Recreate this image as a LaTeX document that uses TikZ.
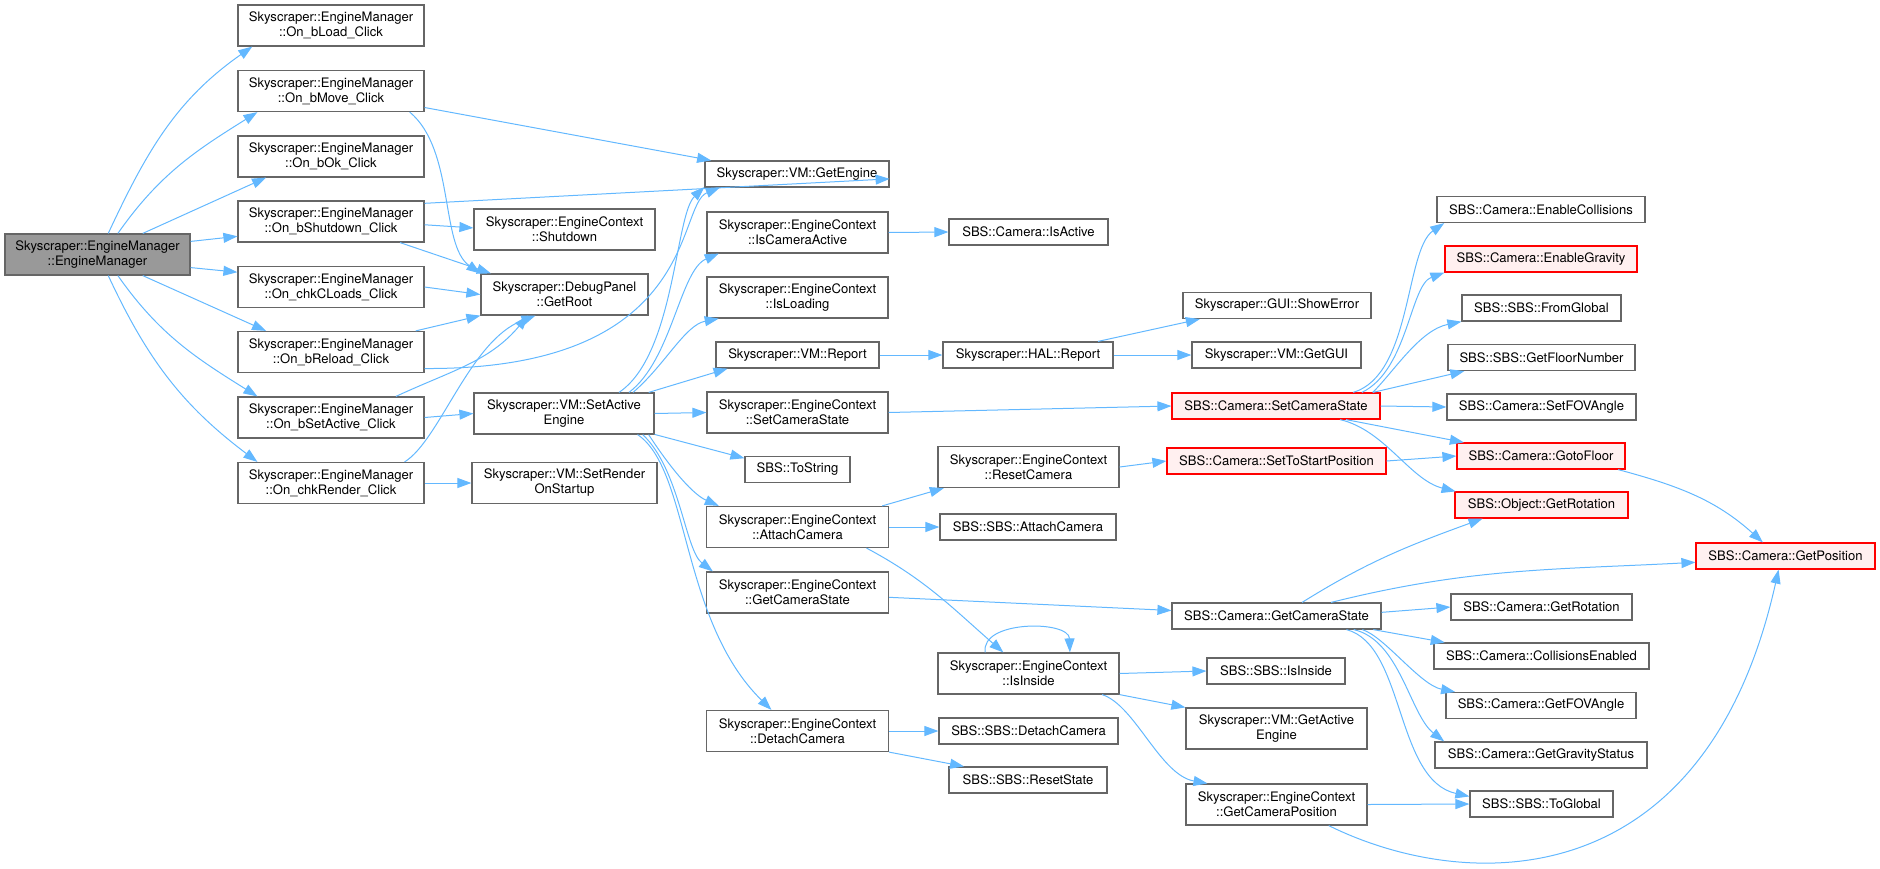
\documentclass[tikz,border=0pt]{standalone}
\usepackage{fontspec}
\setmainfont{TeX Gyre Heros}
\usetikzlibrary{arrows.meta}
\definecolor{edgeblue}{HTML}{63B8FF}
\definecolor{nodegray}{HTML}{666666}
\definecolor{maingray}{HTML}{999999}
\definecolor{hotfill}{HTML}{FFF0F0}

\begin{document}
\begin{tikzpicture}[x=0.75pt, y=-0.75pt,
  fn/.style={draw=nodegray, fill=white, line width=0.9pt, inner sep=0pt,
    align=center, font=\fontsize{9.8}{11.25}\selectfont},
  one/.style={fn, minimum height=19.5pt},
  two/.style={fn, minimum height=30.75pt},
  main/.style={fill=maingray},
  hot/.style={draw=red, fill=hotfill},
  call/.style={draw=edgeblue, line width=0.75pt,
    -{Triangle[length=10.5pt,width=7.5pt]}}]
\useasboundingbox (0,0) rectangle (1880,868);

\node[two, main, minimum width=138.75pt] (em) at (97.5,254.5) {Skyscraper::EngineManager\\::EngineManager};

\node[two, minimum width=139.5pt] (load) at (331,25.5) {Skyscraper::EngineManager\\::On\_bLoad\_Click};
\node[two, minimum width=139.5pt] (move) at (331,91) {Skyscraper::EngineManager\\::On\_bMove\_Click};
\node[two, minimum width=139.5pt] (ok) at (331,156.5) {Skyscraper::EngineManager\\::On\_bOk\_Click};
\node[two, minimum width=139.5pt] (shut) at (331,221.5) {Skyscraper::EngineManager\\::On\_bShutdown\_Click};
\node[two, minimum width=139.5pt] (cload) at (331,287) {Skyscraper::EngineManager\\::On\_chkCLoads\_Click};
\node[two, minimum width=139.5pt] (reload) at (331,352) {Skyscraper::EngineManager\\::On\_bReload\_Click};
\node[two, minimum width=139.5pt] (setact) at (331,417.5) {Skyscraper::EngineManager\\::On\_bSetActive\_Click};
\node[two, minimum width=139.5pt] (render) at (331,483) {Skyscraper::EngineManager\\::On\_chkRender\_Click};

\node[two, minimum width=135.75pt] (ecshut) at (564.5,229.5) {Skyscraper::EngineContext\\::Shutdown};
\node[two, minimum width=125.25pt] (getroot) at (564.5,294.5) {Skyscraper::DebugPanel\\::GetRoot};
\node[two, minimum width=135pt] (vmset) at (564,413.5) {Skyscraper::VM::SetActive\\Engine};
\node[two, minimum width=138.75pt] (vmrender) at (564.5,483) {Skyscraper::VM::SetRender\\OnStartup};

\node[one, minimum width=138pt] (geteng) at (797,174) {Skyscraper::VM::GetEngine};
\node[two, minimum width=135.75pt] (iscam) at (797.5,232.5) {Skyscraper::EngineContext\\::IsCameraActive};
\node[two, minimum width=135.75pt] (isload) at (797.5,297.5) {Skyscraper::EngineContext\\::IsLoading};
\node[one, minimum width=122.25pt] (vmrep) at (797.5,355) {Skyscraper::VM::Report};
\node[two, minimum width=135.75pt] (ecsetcs) at (797.5,412.5) {Skyscraper::EngineContext\\::SetCameraState};
\node[one, minimum width=78.75pt] (tostr) at (797.5,469.5) {SBS::ToString};
\node[two, minimum width=136.5pt] (ecattach) at (797.5,527) {Skyscraper::EngineContext\\::AttachCamera};
\node[two, minimum width=136.5pt] (ecgetcs) at (797.5,592.5) {Skyscraper::EngineContext\\::GetCameraState};
\node[two, minimum width=136.5pt] (ecdetach) at (797.5,731) {Skyscraper::EngineContext\\::DetachCamera};

\node[one, minimum width=119.25pt] (camact) at (1028.5,232) {SBS::Camera::IsActive};
\node[one, minimum width=127.5pt] (halrep) at (1028,355) {Skyscraper::HAL::Report};
\node[two, minimum width=135.75pt] (ecreset) at (1028.5,467) {Skyscraper::EngineContext\\::ResetCamera};
\node[one, minimum width=132pt] (sbsattach) at (1028,527) {SBS::SBS::AttachCamera};
\node[two, minimum width=135.75pt] (ecinside) at (1028.5,673.5) {Skyscraper::EngineContext\\::IsInside};
\node[one, minimum width=134.25pt] (sbsdetach) at (1028.5,731) {SBS::SBS::DetachCamera};
\node[one, minimum width=118.5pt] (sbsreset) at (1028,780) {SBS::SBS::ResetState};

\node[one, minimum width=141pt] (showerr) at (1277,305.5) {Skyscraper::GUI::ShowError};
\node[one, minimum width=126.75pt] (getgui) at (1276.5,355) {Skyscraper::VM::GetGUI};
\node[one, hot, minimum width=156pt] (camsetcs) at (1276,406) {SBS::Camera::SetCameraState};
\node[one, hot, minimum width=164.25pt] (camstart) at (1276.5,461) {SBS::Camera::SetToStartPosition};
\node[one, minimum width=156.75pt] (camgetcs) at (1276.5,616) {SBS::Camera::GetCameraState};
\node[one, minimum width=103.5pt] (sbsinside) at (1276,671) {SBS::SBS::IsInside};
\node[two, minimum width=135.75pt] (vmactive) at (1276.5,728.5) {Skyscraper::VM::GetActive\\Engine};
\node[two, minimum width=135.75pt] (ecgetpos) at (1276.5,804.5) {Skyscraper::EngineContext\\::GetCameraPosition};

\node[one, minimum width=156pt] (enacoll) at (1541,209.5) {SBS::Camera::EnableCollisions};
\node[one, hot, minimum width=144pt] (enagrav) at (1541,259) {SBS::Camera::EnableGravity};
\node[one, minimum width=119.25pt] (fromglob) at (1541.5,308) {SBS::SBS::FromGlobal};
\node[one, minimum width=140.25pt] (floornum) at (1541.5,357.5) {SBS::SBS::GetFloorNumber};
\node[one, minimum width=141.75pt] (setfov) at (1541.5,407) {SBS::Camera::SetFOVAngle};
\node[one, hot, minimum width=126pt] (gotofl) at (1541,456) {SBS::Camera::GotoFloor};
\node[one, hot, minimum width=129.75pt] (objrot) at (1541.5,505) {SBS::Object::GetRotation};
\node[one, minimum width=135.75pt] (camrot) at (1541.5,607) {SBS::Camera::GetRotation};
\node[one, minimum width=161.25pt] (colleno) at (1541.5,656) {SBS::Camera::CollisionsEnabled};
\node[one, minimum width=142.5pt] (getfov) at (1541,705.5) {SBS::Camera::GetFOVAngle};
\node[one, minimum width=159pt] (gravstat) at (1541,755) {SBS::Camera::GetGravityStatus};
\node[one, minimum width=107.25pt] (toglob) at (1541.5,804) {SBS::SBS::ToGlobal};

\node[one, hot, minimum width=134.25pt] (getpos) at (1785.5,556) {SBS::Camera::GetPosition};

\draw[call] (em.63) to[out=65,in=215] (load.195);
\draw[call] (em.46) to[out=55,in=212] (move.196);
\draw[call] (em.25) -- (ok.198);
\draw[call] (em.8) -- (shut.189);
\draw[call] (em.-8) -- (cload.171);
\draw[call] (em.-25) -- (reload.162);
\draw[call] (em.-46) to[out=-55,in=148] (setact.164);
\draw[call] (em.-63) to[out=-65,in=143] (render.164);

\draw[call] (move.-10) -- (geteng.171);
\draw[call] (move.-15) .. controls (455,150) and (440,245) .. (getroot.166);
\draw[call] (shut.11) -- (geteng.-3);
\draw[call] (shut.-2) -- (ecshut.179);
\draw[call] (shut.-17) -- (getroot.164);
\draw[call] (cload.east) -- (getroot.west);
\draw[call] (reload.14) -- (getroot.south west);
\draw[call] (reload.-10) .. controls (700,370) and (676,205) .. (geteng.190);
\draw[call] (setact.18) to[out=25,in=230] (getroot.210);
\draw[call] (setact.east) -- (vmset.west);
\draw[call] (render.16) .. controls (440,440) and (470,340) .. (getroot.216);
\draw[call] (render.east) -- (vmrender.west);

\draw[call] (vmset.21) .. controls (675,355) and (675,215) .. (geteng.188);
\draw[call] (vmset.18) .. controls (672,360) and (680,270) .. (iscam.195);
\draw[call] (vmset.17) .. controls (665,365) and (685,325) .. (isload.195);
\draw[call] (vmset.14) -- (vmrep.191);
\draw[call] (vmset.east) -- (ecsetcs.west);
\draw[call] (vmset.-13) -- (tostr.168);
\draw[call] (vmset.-14) .. controls (665,460) and (690,493) .. (ecattach.165);
\draw[call] (vmset.-15) .. controls (680,470) and (685,550) .. (ecgetcs.166);
\draw[call] (vmset.-16) .. controls (690,470) and (680,620) .. (ecdetach.141);

\draw[call] (iscam.east) -- (camact.west);
\draw[call] (vmrep.east) -- (halrep.west);
\draw[call] (halrep.11) -- (showerr.190);
\draw[call] (halrep.east) -- (getgui.west);
\draw[call] (ecsetcs.east) -- (camsetcs.west);
\draw[call] (camsetcs.10) .. controls (1412,375) and (1405,250) .. (enacoll.188);
\draw[call] (camsetcs.9) .. controls (1408,370) and (1410,285) .. (enagrav.188);
\draw[call] (camsetcs.8) .. controls (1395,370) and (1420,330) .. (fromglob.south west);
\draw[call] (camsetcs.8) -- (floornum.190);
\draw[call] (camsetcs.east) -- (setfov.west);
\draw[call] (camsetcs.-11) -- (gotofl.170);
\draw[call] (camsetcs.-12) .. controls (1385,430) and (1410,480) .. (objrot.171);
\draw[call] (ecreset.east) -- (camstart.west);
\draw[call] (camstart.east) -- (gotofl.west);
\draw[call] (gotofl.-10) to[out=-15,in=138] (getpos.149);

\draw[call] (ecattach.14) -- (ecreset.194);
\draw[call] (ecattach.east) -- (sbsattach.west);
\draw[call] (ecattach.-17) to[out=-28,in=139] (ecinside.140);
\draw[call] (ecinside.154) .. controls (980,620) and (1069,620) .. (ecinside.27);
\draw[call] (ecgetcs.-3) -- (camgetcs.177);
\draw[call] (camgetcs.28) to[out=32,in=200] (objrot.193);
\draw[call] (camgetcs.14) to[out=14,in=183] (getpos.184);
\draw[call] (camgetcs.2) -- (camrot.west);
\draw[call] (camgetcs.-8) -- (colleno.172);
\draw[call] (camgetcs.-9) .. controls (1385,637) and (1420,685) .. (getfov.171);
\draw[call] (camgetcs.-10) .. controls (1400,640) and (1410,715) .. (gravstat.172);
\draw[call] (camgetcs.-11) .. controls (1405,645) and (1395,780) .. (toglob.174);
\draw[call] (ecinside.east) -- (sbsinside.west);
\draw[call] (ecinside.south east) -- (vmactive.north west);
\draw[call] (ecinside.-16) .. controls (1135,705) and (1160,775) .. (ecgetpos.163);
\draw[call] (ecdetach.east) -- (sbsdetach.west);
\draw[call] (ecdetach.south east) -- (sbsreset.168);
\draw[call] (ecgetpos.east) -- (toglob.west);
\draw[call] (ecgetpos.-22) .. controls (1465,893) and (1705,900) .. (getpos.-117);
\end{tikzpicture}
\end{document}
